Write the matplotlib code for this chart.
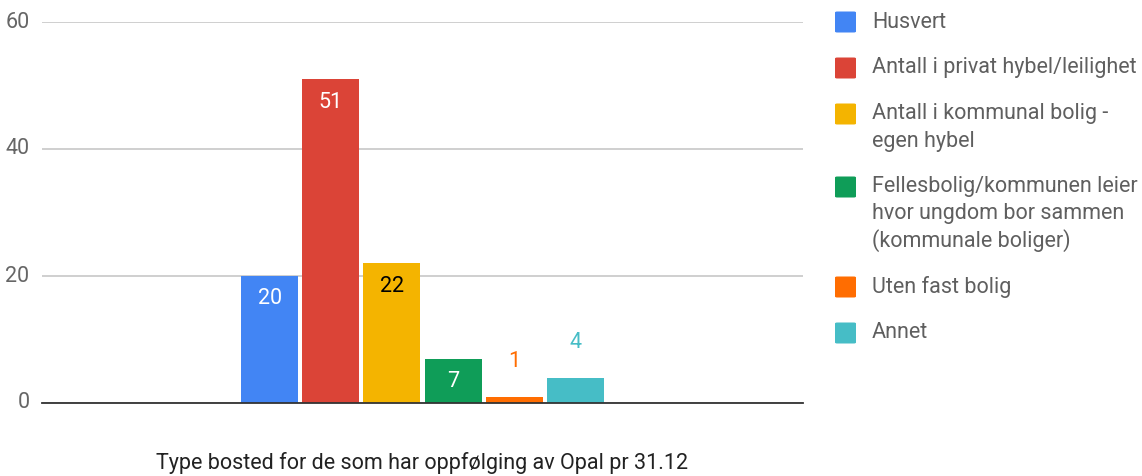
import matplotlib
matplotlib.use('Agg')
import matplotlib.pyplot as plt
from matplotlib.patches import FancyBboxPatch

# -----------------------------------------------------------------------------
# Data
# -----------------------------------------------------------------------------
series = ['Husvert',
          'Antall i privat hybel/leilighet',
          'Antall i kommunal bolig -\negen hybel',
          'Fellesbolig/kommunen leier\nhvor ungdom bor sammen\n(kommunale boliger)',
          'Uten fast bolig',
          'Annet']
values = [20, 51, 22, 7, 1, 4]
colors = ['#4285F4', '#DB4437', '#F4B400', '#0F9D58', '#FF6D01', '#46BDC6']
label_colors = ['white', 'white', 'black', 'white', '#FF6D01', '#46BDC6']
x_title = 'Type bosted for de som har oppfølging av Opal pr 31.12'
yticks = [0, 20, 40, 60]

plt.rcParams['font.family'] = ['Roboto', 'DejaVu Sans']
FS = 15.5

W, H = 1142, 476
fig = plt.figure(figsize=(W / 100, H / 100), dpi=100)
ax = fig.add_axes([42 / W, 73 / H, (803 - 42) / W, (454 - 73) / H])

step = 0.0802
width = 0.0749
n = len(values)
for i, (v, c, lc) in enumerate(zip(values, colors, label_colors)):
    x = (i - (n - 1) / 2) * step
    ax.bar(x, v, width=width, color=c, zorder=3)
    # labels inside the bar when it is tall enough, above it otherwise
    off = -23 if v >= 5 else 35
    ax.annotate(str(v), (x, v), xytext=(0, off), textcoords='offset pixels',
                ha='center', va='center', color=lc, fontsize=FS, zorder=4)

ax.set_xlim(-0.5, 0.5)
ax.set_ylim(0, 60)
ax.set_yticks(yticks)
ax.set_xticks([])
ax.tick_params(axis='y', length=0, pad=9, labelsize=FS, labelcolor='#666666')
for t in ax.get_yticklabels():
    t.set_verticalalignment('center')
ax.grid(True, axis='y', color='#cccccc', linewidth=1.3, zorder=0)
for s in ['top', 'right', 'left']:
    ax.spines[s].set_visible(False)
ax.spines['bottom'].set_color('#333333')
ax.spines['bottom'].set_linewidth(1.3)
ax.spines['bottom'].set_zorder(5)

fig.text(422 / W, 1 - 463 / H, x_title, ha='center', va='center',
         fontsize=FS, color='#222222')

# legend drawn by hand so the multi-line entries space like the original
y = 22
line_h = 27
gap = 46
for name, c in zip(series, colors):
    sq = FancyBboxPatch((835 / W, 1 - (y + 10.5) / H), 21 / W, 21 / H,
                        boxstyle='round,pad=0,rounding_size=0.002',
                        transform=fig.transFigure, facecolor=c,
                        edgecolor='none')
    fig.patches.append(sq)
    for k, line in enumerate(name.split('\n')):
        fig.text(872 / W, 1 - (y + k * line_h) / H, line, ha='left',
                 va='center', fontsize=FS, color='#5f5f5f')
    y += name.count('\n') * line_h + gap

fig.savefig('out.png', dpi=100)
